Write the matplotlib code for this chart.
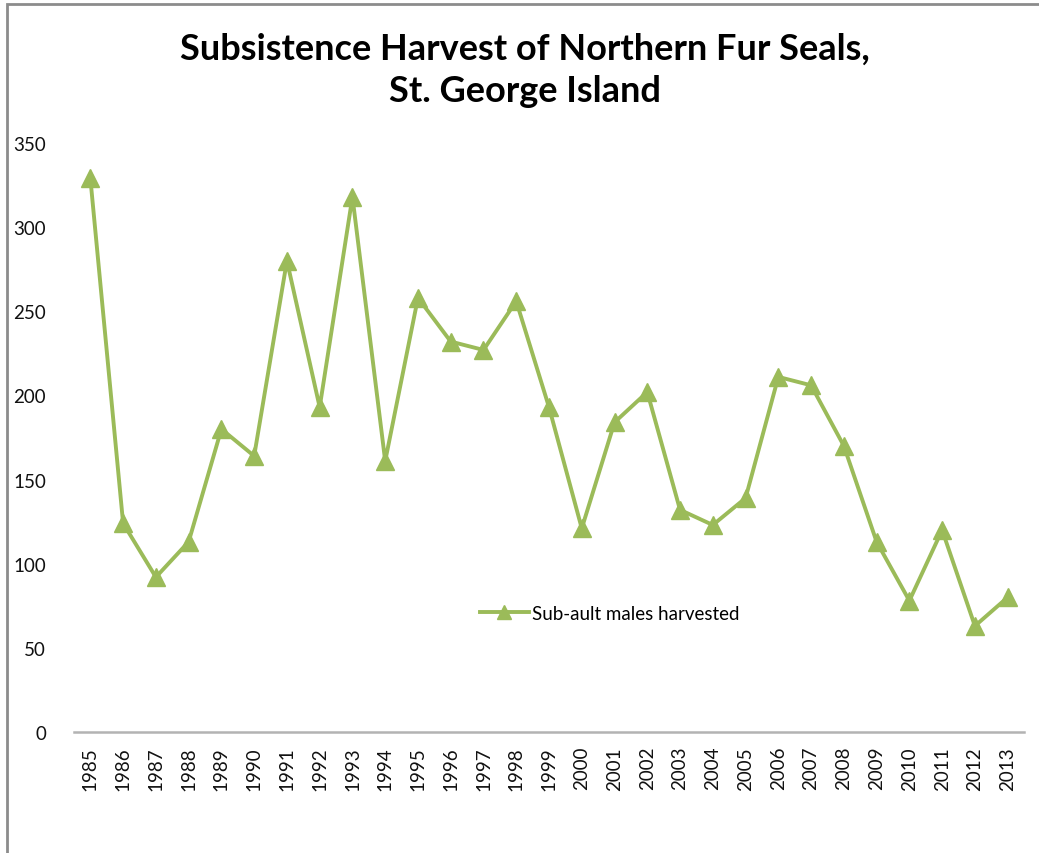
import matplotlib.pyplot as plt
import matplotlib.patches as mpatches

years = [str(y) for y in range(1985, 2014)]
harvested = [329, 124, 92, 113, 180, 164, 280, 193, 318, 161,
             258, 232, 227, 256, 193, 121, 184, 202, 132, 123,
             139, 211, 206, 170, 113, 78, 120, 63, 80]
yticks = [0, 50, 100, 150, 200, 250, 300, 350]

fig = plt.figure(figsize=(10.39, 8.54), dpi=100)
ax = fig.add_axes([0.0712, 0.1417, 0.9144, 0.6897])

# outer chart border (only top and left visible in the reference)
fig.add_artist(mpatches.Rectangle((7 / 1039, -0.1), 1.2, 1 - 5 / 854 + 0.1,
                                  transform=fig.transFigure, fill=False,
                                  ec="#8c8c8c", lw=2))

x = list(range(len(years)))
ax.plot(x, harvested, color="#9BBB59", lw=2.8, marker="^", ms=13,
        label="Sub-ault males harvested")

ax.set_xlim(-0.5, len(years) - 0.5)
ax.set_ylim(0, 350)
ax.set_xticks(x)
ax.set_xticklabels(years, rotation=90, fontsize=13.5, fontfamily="Lato")
ax.set_yticks(yticks)
ax.set_yticklabels([str(v) for v in yticks], fontsize=13.5, fontfamily="Lato")
ax.tick_params(axis="both", length=0, colors="#111111")
ax.tick_params(axis="y", pad=20)
ax.tick_params(axis="x", pad=10)

for s in ["top", "right", "left"]:
    ax.spines[s].set_visible(False)
ax.spines["bottom"].set_color("#b3b3b3")
ax.spines["bottom"].set_linewidth(1.8)

leg = ax.legend(loc="center", bbox_to_anchor=(0.564, 0.202), frameon=False,
                prop={"family": "Lato", "size": 13.5}, handlelength=2.6,
                handletextpad=0.2, markerscale=0.75)

fig.text(0.505, 0.918, "Subsistence Harvest of Northern Fur Seals,\nSt. George Island",
         ha="center", va="center", fontsize=26, fontweight="bold",
         fontfamily="Lato", linespacing=1.35)

fig.savefig("out.png", dpi=100)
